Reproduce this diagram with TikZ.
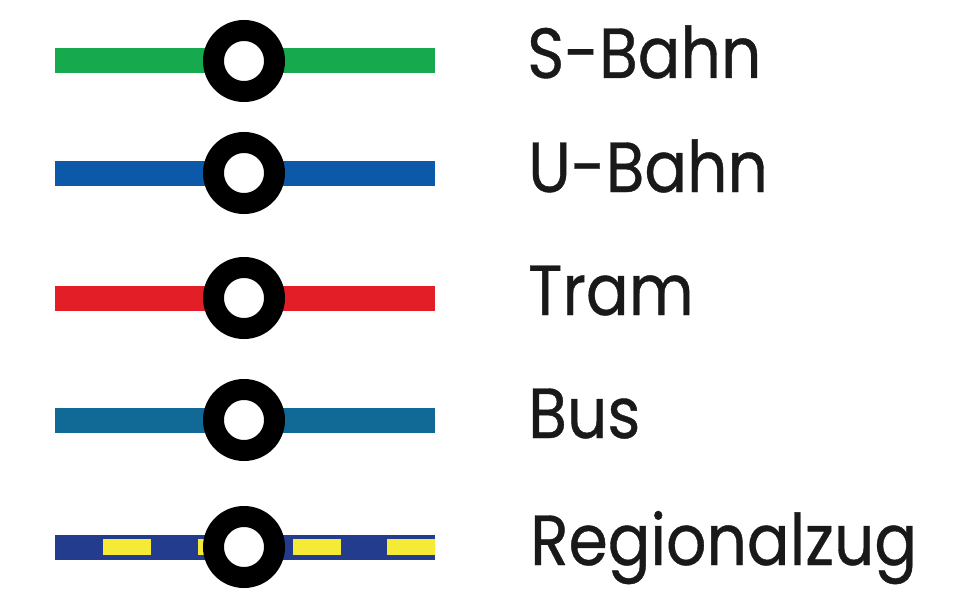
\documentclass[tikz,border=0pt]{standalone}
\usepackage{fontspec}
\setmainfont[FakeBold=0.6]{Poppins}
\definecolor{sgreen}{HTML}{16A94D}
\definecolor{ublue}{HTML}{0B59A8}
\definecolor{tred}{HTML}{E41E26}
\definecolor{bteal}{HTML}{116A95}
\definecolor{rblue}{HTML}{233C8E}
\definecolor{ryellow}{HTML}{F5EA36}
\newcommand{\lbltext}[1]{\scalebox{0.89}[1]{#1}}
\begin{document}
\begin{tikzpicture}[x=1pt,y=-1pt,
  bar/.style={line width=25pt},
  station/.style={circle,draw=black,fill=white,line width=21pt,minimum size=61pt,inner sep=0pt},
  label/.style={anchor=base west,inner sep=0pt,font=\fontsize{71}{80}\selectfont,text=black!90}]
\useasboundingbox (0,0) rectangle (961,607);
% rows
\foreach \n/\y/\c in {s/61/sgreen,u/173/ublue,t/298/tred,b/420/bteal}{
  \coordinate (\n L) at (55,\y);
  \coordinate (\n R) at (435,\y);
  \draw[bar,draw=\c] (\n L) -- (\n R);
  \node[station] (\n st) at (244,\y) {};
}
% Regionalzug
\coordinate (rL) at (55,547);
\coordinate (rR) at (435,547);
\draw[bar,draw=rblue] (rL) -- (rR);
\foreach \x in {103,198,293,387}{
  \fill[ryellow] (\x,539) rectangle ++(47.5,16);
}
\node[station] (rst) at (244,547) {};
% labels
\node[label] (sl) at (527,78) {\lbltext{S-Bahn}};
\node[label] (ul) at (528,192) {\lbltext{U-Bahn}};
\node[label] (tl) at (528,315) {\lbltext{Tram}};
\node[label] (bl) at (528,438) {\lbltext{Bus}};
\node[label] (rl) at (530,565) {\lbltext{Regionalzug}};
\end{tikzpicture}
\end{document}
